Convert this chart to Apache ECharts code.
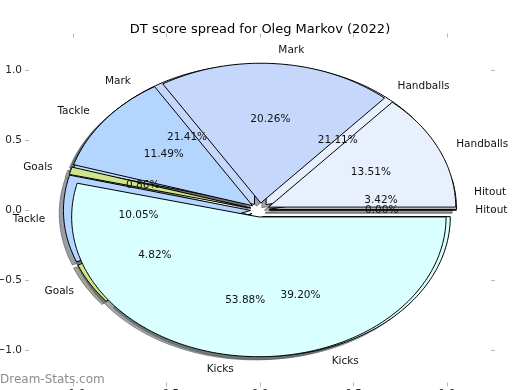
<!DOCTYPE html>
<html><head><meta charset="utf-8">
<script src="https://cdn.jsdelivr.net/npm/echarts@6/dist/echarts.min.js"></script>
<style>html,body{margin:0;padding:0;background:#fff}#c{width:520px;height:390px}</style>
</head><body><div id="c"></div>
<script>
// ---- data ----
const categories = ['Hitout', 'Handballs', 'Mark', 'Tackle', 'Goals', 'Kicks'];
const pieA = [3.42, 21.11, 21.41, 10.05, 4.82, 39.20];   // drawn first (underneath)
const pieB = [0.00, 13.51, 20.26, 11.49, 0.86, 53.88];   // drawn on top
const sliceColors = ['#f2f2f2', '#e8f0fe', '#c5d8fc', '#b4d5fe', '#cde68b', '#d9ffff'];
const tickValues = [-1.0, -0.5, 0.0, 0.5, 1.0];
const chartTitle = 'DT score spread for Oleg Markov (2022)';
const watermark = 'Dream-Stats.com';

// ---- style constants ----
const EXPLODE = 0.05, LABEL_D = 1.1, PCT_D = 0.6, SHADOW = -0.0226, LIM = 1.234;
const FONT = 'DejaVu Sans';

function wedges(values) {
  const total = values.reduce((a, b) => a + b, 0);
  let acc = 0;
  return values.map((v, i) => {
    const a0 = acc / total * 360; acc += v; const a1 = acc / total * 360;
    const mid = (a0 + a1) / 2 * Math.PI / 180;
    return { i, v, a0, a1, mid, cx: EXPLODE * Math.cos(mid), cy: EXPLODE * Math.sin(mid) };
  });
}
const WA = wedges(pieA), WB = wedges(pieB);

function wedgePoly(w, api, dx, dy) {
  const pts = [api.coord([w.cx + dx, w.cy + dy])];
  const n = Math.max(2, Math.ceil(w.a1 - w.a0) + 1);
  for (let k = 0; k < n; k++) {
    const t = (w.a0 + (w.a1 - w.a0) * k / (n - 1)) * Math.PI / 180;
    pts.push(api.coord([w.cx + dx + Math.cos(t), w.cy + dy + Math.sin(t)]));
  }
  return pts;
}
function shade(hex) {
  const r = Math.round(parseInt(hex.slice(1, 3), 16) * 0.3);
  const g = Math.round(parseInt(hex.slice(3, 5), 16) * 0.3);
  const b = Math.round(parseInt(hex.slice(5, 7), 16) * 0.3);
  return `rgba(${r},${g},${b},0.5)`;
}
function wedgeSeries(W, shadow) {
  return {
    type: 'custom', coordinateSystem: 'cartesian2d', clip: false, silent: true, animation: false,
    data: W.map(w => [w.cx, w.cy, w.i]),
    renderItem: (params, api) => {
      const w = W[params.dataIndex];
      const d = shadow ? SHADOW : 0;
      const col = sliceColors[w.i];
      return {
        type: 'polygon', shape: { points: wedgePoly(w, api, d, d) },
        style: shadow ? { fill: shade(col), stroke: shade(col), lineWidth: 1, lineJoin: 'miter' }
                      : { fill: col, stroke: '#000', lineWidth: 1, lineJoin: 'miter' }
      };
    }
  };
}
const allW = WA.concat(WB);
const labelSeries = {
  type: 'custom', coordinateSystem: 'cartesian2d', clip: false, silent: true, animation: false,
  data: allW.map(w => [w.cx, w.cy, w.i]),
  renderItem: (params, api) => {
    const w = allW[params.dataIndex];
    const lx = w.cx + LABEL_D * Math.cos(w.mid), ly = w.cy + LABEL_D * Math.sin(w.mid);
    const px = w.cx + PCT_D * Math.cos(w.mid), py = w.cy + PCT_D * Math.sin(w.mid);
    const lp = api.coord([lx, ly]), pp = api.coord([px, py]);
    return {
      type: 'group', children: [
        { type: 'text', x: lp[0], y: lp[1], style: { text: categories[w.i], fill: '#111', fontSize: 10.5, fontFamily: FONT,
          align: lx > 0 ? 'left' : 'right', verticalAlign: 'middle' } },
        { type: 'text', x: pp[0], y: pp[1], style: { text: w.v.toFixed(2) + '%', fill: '#111', fontSize: 10.5, fontFamily: FONT,
          align: 'center', verticalAlign: 'middle' } }
      ]
    };
  }
};

function fmt(v) { const s = Math.abs(v).toFixed(1); return v < 0 ? '\u2212' + s : s; }
const tickColor = '#b8b8b8';
function axis(pos, showLabel, margin) {
  return {
    type: 'value', min: -LIM, max: LIM, position: pos,
    axisLine: { show: false, onZero: false }, splitLine: { show: false },
    axisTick: { show: true, length: 4, lineStyle: { color: tickColor, width: 1 }, customValues: tickValues },
    axisLabel: { show: showLabel, customValues: tickValues, formatter: fmt, color: '#222', fontSize: 10.5, fontFamily: FONT, margin: margin }
  };
}

const chart = echarts.init(document.getElementById('c'), null, { renderer: 'canvas' });
chart.setOption({
  animation: false,
  backgroundColor: '#fff',
  title: { text: chartTitle, left: 'center', top: 18, textStyle: { fontSize: 13, fontWeight: 'normal', color: '#000', fontFamily: FONT } },
  grid: { left: 29, right: 29, top: 37.5, bottom: 7.5, containLabel: false, outerBoundsMode: 'none' },
  xAxis: [axis('bottom', true, 6), axis('top', false, 7)],
  yAxis: [axis('left', true, 7), axis('right', false, 7)],
  graphic: [{ type: 'text', left: 0, top: 374, style: { text: watermark, fill: '#8c8c8c', fontSize: 12, fontFamily: FONT } }],
  series: [wedgeSeries(WA, true), wedgeSeries(WB, true), wedgeSeries(WA, false), wedgeSeries(WB, false), labelSeries]
});
</script></body></html>
